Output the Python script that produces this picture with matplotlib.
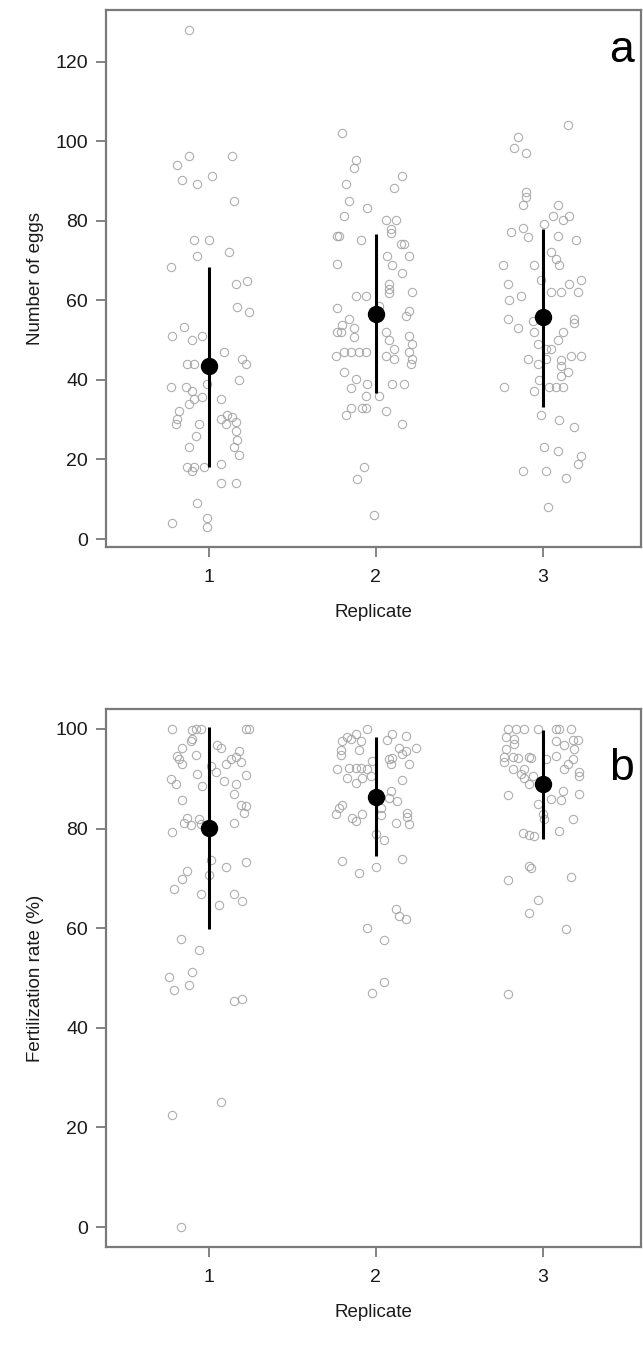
import numpy as np
import matplotlib
matplotlib.use("Agg")
import matplotlib.pyplot as plt

plt.rcParams['font.family'] = ['Liberation Sans', 'DejaVu Sans']

# ---- panel a: number of eggs (values, horizontal jitter offsets) ----
eggs_r1 = [128, 96.2, 94.1, 96.2, 90.3, 89.2, 91.2, 85.1, 75.1, 75.1, 71.2, 72.1, 68.3,
           64.0, 64.9, 58.4, 57.0, 51.0, 53.3, 50.1, 51.0, 47.1, 44.0, 44.0, 45.2, 44.0,
           40.0, 38.2, 38.2, 37.1, 38.9, 33.9, 35.3, 35.7, 35.3, 32.1, 30.3, 29.0, 29.0,
           30.3, 31.2, 30.8, 29.4, 29.0, 27.2, 25.0, 23.2, 21.2, 26.0, 23.2, 18.2, 18.2,
           17.0, 18.2, 18.8, 14.0, 14.0, 9.0, 4.1, 5.2, 3.1]
eggs_r1_jit = [-0.12, -0.12, -0.19, 0.14, -0.16, -0.07, 0.02, 0.15, -0.09, 0.0, -0.07, 0.12, -0.23,
               0.16, 0.23, 0.17, 0.24, -0.22, -0.15, -0.10, -0.04, 0.09, -0.13, -0.09, 0.20, 0.22,
               0.18, -0.23, -0.14, -0.10, -0.01, -0.12, -0.09, -0.04, 0.07, -0.18, -0.19, -0.20, -0.06,
               0.07, 0.11, 0.14, 0.16, 0.10, 0.16, 0.17, 0.15, 0.18, -0.08, -0.12, -0.13, -0.09,
               -0.10, -0.03, 0.07, 0.07, 0.16, -0.07, -0.22, -0.01, -0.01]

eggs_r2 = [102.2, 95.2, 93.2, 89.2, 91.3, 88.3, 85.1, 83.2, 81.1, 80.2, 80.2, 78.0, 76.9,
           76.2, 76.2, 75.3, 74.1, 74.1, 71.2, 71.2, 69.0, 69.2, 67.0, 64.0, 62.9, 61.8,
           62.0, 61.1, 61.1, 58.2, 58.6, 57.3, 56.0, 55.2, 53.9, 52.1, 52.1, 53.0, 50.7,
           52.1, 50.1, 51.0, 49.0, 47.9, 46.1, 47.0, 47.0, 47.0, 47.0, 46.1, 45.2, 47.0,
           45.2, 44.0, 42.0, 40.2, 38.0, 38.9, 38.9, 38.9, 35.9, 35.9, 33.0, 33.0, 33.0,
           31.1, 32.1, 29.0, 18.0, 15.1, 6.1]
eggs_r2_jit = [-0.20, -0.12, -0.13, -0.18, 0.16, 0.11, -0.16, -0.05, -0.19, 0.06, 0.12, 0.09, 0.09,
               -0.23, -0.22, -0.09, 0.15, 0.17, 0.07, 0.20, 0.10, -0.23, 0.16, 0.08, 0.08, 0.08,
               0.22, -0.12, -0.06, -0.23, 0.02, 0.20, 0.18, -0.16, -0.20, -0.23, -0.21, -0.13, -0.13,
               0.06, 0.08, 0.20, 0.22, 0.11, -0.24, -0.19, -0.15, -0.10, -0.06, 0.06, 0.11, 0.20,
               0.22, 0.21, -0.19, -0.12, -0.15, -0.05, 0.10, 0.17, -0.06, 0.02, -0.15, -0.08, -0.06,
               -0.18, 0.06, 0.16, -0.07, -0.11, -0.01]

eggs_r3 = [104.2, 101.1, 98.4, 97.0, 87.2, 86.0, 84.1, 84.1, 81.3, 80.2, 81.1, 79.3, 77.1,
           78.2, 76.0, 76.2, 75.1, 72.1, 70.3, 69.0, 69.0, 69.0, 65.2, 64.0, 64.0, 65.2,
           62.0, 62.0, 62.0, 61.1, 60.0, 55.2, 53.0, 54.8, 55.2, 54.2, 52.1, 52.1, 50.1,
           49.0, 47.9, 47.9, 45.2, 44.0, 45.2, 44.9, 43.4, 46.1, 46.1, 42.0, 41.1, 40.0,
           38.2, 37.1, 38.2, 38.2, 38.2, 31.1, 29.9, 28.1, 23.2, 22.1, 20.9, 18.8, 17.0,
           17.0, 15.3, 8.1]
eggs_r3_jit = [0.15, -0.15, -0.17, -0.10, -0.10, -0.10, -0.12, 0.09, 0.06, 0.12, 0.16, 0.01, -0.19,
               -0.12, -0.09, 0.09, 0.20, 0.05, 0.08, 0.10, -0.24, -0.05, -0.01, -0.21, 0.16, 0.23,
               0.05, 0.11, 0.21, -0.13, -0.20, -0.21, -0.15, -0.06, 0.19, 0.19, -0.05, 0.12, 0.09,
               -0.03, 0.05, 0.02, -0.09, -0.03, 0.02, 0.11, 0.11, 0.17, 0.23, 0.15, 0.11, -0.02,
               -0.23, -0.05, 0.04, 0.08, 0.12, -0.01, 0.10, 0.19, 0.01, 0.09, 0.23, 0.21, -0.12,
               0.02, 0.14, 0.03]

eggs_mean = [43.4, 56.6, 55.7]
eggs_lo = [18.2, 36.6, 33.2]
eggs_hi = [68.5, 76.6, 78.0]

# ---- panel b: fertilization rate (%) ----
fert_r1 = [99.9, 99.8, 99.9, 99.9, 99.9, 99.9, 97.9, 97.5, 96.1, 96.8, 96.1, 95.6, 94.6,
           93.9, 94.8, 92.9, 92.6, 92.9, 93.9, 94.3, 93.3, 90.9, 91.3, 90.8, 89.9, 88.9,
           88.6, 89.6, 88.9, 87.0, 85.7, 84.8, 84.6, 83.2, 82.2, 81.2, 80.8, 82.0, 80.9,
           81.2, 79.4, 73.7, 72.3, 73.2, 71.4, 70.7, 69.9, 67.9, 66.9, 66.9, 65.4, 64.7,
           57.9, 55.7, 51.3, 50.2, 47.5, 48.6, 45.3, 45.8, 22.4, 25.2, 0.0]
fert_r1_jit = [-0.22, -0.10, -0.08, -0.05, 0.22, 0.24, -0.10, -0.11, -0.16, 0.05, 0.07, 0.18, -0.19,
               -0.18, -0.08, -0.16, 0.01, 0.10, 0.13, 0.16, 0.19, -0.07, 0.04, 0.22, -0.23, -0.20,
               -0.04, 0.09, 0.16, 0.15, -0.16, 0.19, 0.22, 0.21, -0.13, -0.15, -0.11, -0.06, -0.05,
               0.15, -0.22, 0.01, 0.10, 0.22, -0.13, 0.0, -0.16, -0.21, -0.05, 0.15, 0.20, 0.06,
               -0.17, -0.06, -0.10, -0.24, -0.21, -0.12, 0.15, 0.20, -0.22, 0.07, -0.17]

fert_r2 = [99.9, 98.4, 98.9, 97.5, 97.9, 97.5, 98.9, 98.6, 97.7, 96.1, 96.1, 95.7, 95.7,
           94.8, 93.9, 94.9, 95.5, 94.1, 92.9, 92.9, 91.9, 92.1, 92.1, 92.1, 91.9, 93.6,
           90.1, 89.2, 90.1, 90.6, 89.7, 87.6, 85.6, 86.2, 84.8, 84.2, 82.9, 82.9, 82.2,
           81.6, 84.2, 82.8, 83.2, 82.4, 81.2, 80.9, 79.0, 77.7, 73.5, 71.0, 72.3, 73.9,
           63.9, 62.4, 61.9, 60.1, 57.7, 49.2, 47.0]
fert_r2_jit = [-0.05, -0.17, -0.12, -0.20, -0.15, -0.09, 0.10, 0.18, 0.07, 0.24, 0.14, -0.21, -0.10,
               -0.21, 0.08, 0.16, 0.18, 0.10, 0.09, 0.20, -0.23, -0.16, -0.12, -0.09, -0.05, -0.02,
               -0.17, -0.12, -0.08, -0.03, 0.16, 0.09, 0.13, 0.08, -0.20, -0.22, -0.24, -0.08, -0.14,
               -0.12, 0.03, 0.03, 0.19, 0.19, 0.12, 0.20, 0.0, 0.05, -0.20, -0.10, 0.0, 0.16,
               0.12, 0.14, 0.18, -0.05, 0.05, 0.05, -0.02]

fert_r3 = [99.9, 99.9, 99.9, 99.9, 99.9, 99.9, 99.9, 98.4, 97.9, 96.9, 97.6, 97.7, 97.7,
           96.8, 95.9, 95.9, 94.4, 94.4, 94.1, 94.4, 94.1, 93.9, 94.6, 93.9, 93.3, 92.9,
           91.9, 91.9, 91.9, 91.3, 90.6, 90.9, 90.2, 90.6, 89.0, 86.8, 87.6, 86.9, 85.9,
           85.7, 84.9, 82.9, 81.9, 81.9, 79.2, 78.8, 78.6, 79.6, 72.5, 72.1, 70.2, 69.7,
           65.7, 63.1, 59.9, 46.8]
fert_r3_jit = [-0.21, -0.16, -0.11, -0.03, 0.08, 0.10, 0.17, -0.22, -0.17, -0.17, 0.08, 0.18, 0.21,
               0.13, -0.22, 0.19, -0.23, -0.18, -0.15, -0.08, -0.07, 0.02, 0.08, 0.18, -0.23, 0.15,
               -0.18, -0.11, 0.13, 0.22, 0.22, -0.13, -0.11, -0.06, -0.08, -0.21, 0.12, 0.22, 0.05,
               0.11, -0.03, 0.0, 0.01, 0.18, -0.12, -0.08, -0.05, 0.10, -0.08, -0.07, 0.17, -0.21,
               -0.03, -0.08, 0.14, -0.21]

fert_mean = [80.1, 86.4, 88.9]
fert_lo = [59.8, 74.5, 77.9]
fert_hi = [100.4, 98.4, 99.8]

replicates = [1, 2, 3]
GREY = '#a0a0a0'
AXCOL = '#7a7a7a'


def draw_panel(ax, values, jitters, means, lo, hi, ylim, yticks, ylabel, letter, letter_y):
    for rep, vals, jit in zip(replicates, values, jitters):
        x = rep + np.array(jit)
        ax.plot(x, vals, 'o', mfc='none', mec=GREY, mew=0.8, ms=6, alpha=0.85)
    ax.vlines(replicates, lo, hi, color='black', lw=2.2, zorder=3)
    ax.plot(replicates, means, 'o', color='black', ms=11.5, zorder=4)

    ax.set_xlim(0.383, 3.59)
    ax.set_ylim(*ylim)
    ax.set_xticks(replicates)
    ax.set_yticks(yticks)
    for s in ax.spines.values():
        s.set_color(AXCOL)
        s.set_linewidth(1.6)
    ax.tick_params(axis='both', colors=AXCOL, labelcolor='#1a1a1a', labelsize=14,
                   length=7, width=1.3, direction='out')
    ax.tick_params(axis='x', pad=9)
    ax.tick_params(axis='y', pad=6)
    ax.set_xlabel('Replicate', fontsize=13.5, color='#1a1a1a', labelpad=13)
    ax.set_ylabel(ylabel, fontsize=13.5, color='#1a1a1a', labelpad=8)
    ax.text(0.963, letter_y, letter, transform=ax.transAxes, fontsize=32,
            ha='center', va='center', color='black')


fig = plt.figure(figsize=(6.43, 13.45), dpi=100)
ax_a = fig.add_axes([106 / 643, 1 - 547 / 1345, 535 / 643, 537 / 1345])
ax_b = fig.add_axes([106 / 643, 1 - 1247 / 1345, 535 / 643, 538 / 1345])

draw_panel(ax_a, [eggs_r1, eggs_r2, eggs_r3], [eggs_r1_jit, eggs_r2_jit, eggs_r3_jit],
           eggs_mean, eggs_lo, eggs_hi, (-2, 133), [0, 20, 40, 60, 80, 100, 120],
           'Number of eggs', 'a', 0.925)
draw_panel(ax_b, [fert_r1, fert_r2, fert_r3], [fert_r1_jit, fert_r2_jit, fert_r3_jit],
           fert_mean, fert_lo, fert_hi, (-4, 104), [0, 20, 40, 60, 80, 100],
           'Fertilization rate (%)', 'b', 0.89)

fig.savefig('out.png', dpi=100)
